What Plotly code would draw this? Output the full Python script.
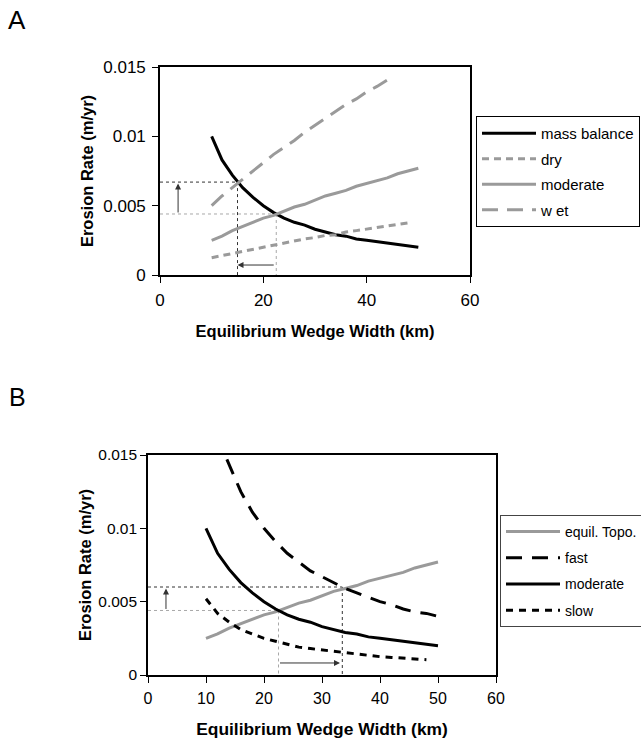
import plotly.graph_objects as go

# ---------------- data ----------------
x_full = [10, 12, 14, 16, 18, 20, 22, 24, 26, 28, 30, 32, 34, 36, 38, 40, 42, 44, 46, 48, 50]

# Panel A
mass_balance = [0.0100, 0.0083, 0.0072, 0.0063, 0.0056, 0.0050, 0.0045, 0.0041, 0.0038, 0.0036,
                0.0033, 0.0031, 0.0029, 0.0028, 0.0026, 0.0025, 0.0024, 0.0023, 0.0022, 0.0021, 0.0020]
moderate_a = [0.0025, 0.0028, 0.0032, 0.0035, 0.0038, 0.0041, 0.0043, 0.0046, 0.0049, 0.0051,
              0.0054, 0.0057, 0.0059, 0.0061, 0.0064, 0.0066, 0.0068, 0.0070, 0.0073, 0.0075, 0.0077]
dry_x = [10, 12, 14, 16, 18, 20, 22, 24, 26, 28, 30, 32, 34, 36, 38, 40, 42, 44, 46, 48]
dry = [0.00125, 0.0014, 0.0016, 0.00175, 0.0019, 0.00205, 0.0022, 0.0023, 0.00245, 0.0026,
       0.0027, 0.00285, 0.0029, 0.0031, 0.0032, 0.0033, 0.0034, 0.0035, 0.0036, 0.00375]
wet_x = [10, 12, 14, 16, 18, 20, 22, 24, 26, 28, 30, 32, 34, 36, 38, 40, 42, 44, 45]
wet = [0.0050, 0.0057, 0.0063, 0.0069, 0.0075, 0.0081, 0.0087, 0.0092, 0.0097, 0.0103,
       0.0108, 0.0113, 0.0118, 0.0123, 0.0127, 0.0132, 0.0136, 0.0141, 0.0143]

# Panel B
equil_topo = moderate_a
moderate_b = mass_balance
fast_x = [13.6, 16, 18, 20, 22, 24, 26, 28, 30, 32, 34, 36, 38, 40, 42, 44, 46, 48, 50]
fast = [0.0147, 0.0125, 0.0111, 0.0100, 0.0091, 0.0083, 0.0077, 0.0071, 0.0067, 0.0063,
        0.0059, 0.0056, 0.0053, 0.0050, 0.0048, 0.0045, 0.0043, 0.0042, 0.0040]
slow_x = [10, 12, 14, 16, 18, 20, 22, 24, 26, 28, 30, 32, 34, 36, 38, 40, 42, 44, 46, 48]
slow = [0.0052, 0.0042, 0.0036, 0.0031, 0.0028, 0.0025, 0.0023, 0.0021, 0.0019, 0.0018,
        0.0017, 0.0016, 0.0015, 0.0014, 0.0013, 0.00125, 0.0012, 0.00114, 0.00109, 0.00104]

# guide values (intersections) and arrows
a_base = (22.5, 0.0044)
a_new = (15.0, 0.0067)
a_up_arrow_x = 3.5
a_side_arrow_y = 0.00072
b_base = (22.5, 0.0044)
b_new = (33.5, 0.0060)
b_up_arrow_x = 3.1
b_side_arrow_y = 0.00082

x_ticks_a = [0, 20, 40, 60]
x_ticks_b = [0, 10, 20, 30, 40, 50, 60]
y_ticks = [0, 0.005, 0.01, 0.015]
y_tick_text = ["0", "0.005", "0.01", "0.015"]

GREY = "#9a9a9a"
BLACK = "#000000"
FONT = "Liberation Sans, Arial, sans-serif"

fig = go.Figure()

def add(x, y, name, color, dash, xa, ya, leg):
    fig.add_trace(go.Scatter(x=x, y=y, name=name, mode="lines",
                             line=dict(color=color, width=3, dash=dash),
                             xaxis=xa, yaxis=ya, legend=leg, legendgroup=leg + name,
                             hoverinfo="skip"))

add(x_full, mass_balance, "mass balance", BLACK, "solid", "x", "y", "legend")
add(dry_x, dry, "dry", GREY, "7px,5px", "x", "y", "legend")
add(x_full, moderate_a, "moderate", GREY, "solid", "x", "y", "legend")
add(wet_x, wet, "w et", GREY, "16px,9px", "x", "y", "legend")

add(x_full, equil_topo, "equil. Topo.", GREY, "solid", "x2", "y2", "legend2")
add(fast_x, fast, "fast", BLACK, "16px,10px", "x2", "y2", "legend2")
add(x_full, moderate_b, "moderate", BLACK, "solid", "x2", "y2", "legend2")
add(slow_x, slow, "slow", BLACK, "7px,6px", "x2", "y2", "legend2")

shapes = []
def guide(xr, yr, x0, y0, x1, y1, color):
    shapes.append(dict(type="line", xref=xr, yref=yr, x0=x0, y0=y0, x1=x1, y1=y1,
                       line=dict(color=color, width=1, dash="3px,3px"), layer="below"))

DARKG = "#333333"
LIGHTG = "#a8a8a8"
guide("x", "y", 0, a_base[1], a_base[0], a_base[1], LIGHTG)
guide("x", "y", a_base[0], a_base[1], a_base[0], 0, LIGHTG)
guide("x", "y", 0, a_new[1], a_new[0], a_new[1], DARKG)
guide("x", "y", a_new[0], a_new[1], a_new[0], 0, DARKG)
guide("x2", "y2", 0, b_base[1], b_base[0], b_base[1], LIGHTG)
guide("x2", "y2", b_base[0], b_base[1], b_base[0], 0, LIGHTG)
guide("x2", "y2", 0, b_new[1], b_new[0], b_new[1], DARKG)
guide("x2", "y2", b_new[0], b_new[1], b_new[0], 0, DARKG)

annotations = []
def arrow(xr, yr, x0, y0, x1, y1):
    annotations.append(dict(xref=xr, yref=yr, axref=xr, ayref=yr, x=x1, y=y1, ax=x0, ay=y0,
                            text="", showarrow=True, arrowhead=2, arrowsize=1.2,
                            arrowwidth=1, arrowcolor="#333333", standoff=0, startstandoff=0))

arrow("x", "y", a_up_arrow_x, a_base[1], a_up_arrow_x, a_new[1] - 0.0001)
arrow("x", "y", a_base[0] - 0.2, a_side_arrow_y, a_new[0], a_side_arrow_y)
arrow("x2", "y2", b_up_arrow_x, b_base[1], b_up_arrow_x, b_new[1] - 0.0001)
arrow("x2", "y2", b_base[0], b_side_arrow_y, b_new[0] - 0.4, b_side_arrow_y)

annotations.append(dict(xref="paper", yref="paper", x=6 / 641, y=1 - 3 / 739, xanchor="left",
                        yanchor="top", text="A", showarrow=False,
                        font=dict(family=FONT, size=26, color="black")))
annotations.append(dict(xref="paper", yref="paper", x=7 / 641, y=1 - 381 / 739, xanchor="left",
                        yanchor="top", text="B", showarrow=False,
                        font=dict(family=FONT, size=25, color="black")))

axis_common = dict(showline=True, linecolor="black", linewidth=1.6, mirror=True,
                   ticks="outside", ticklen=6, tickwidth=1.3, tickcolor="black",
                   showgrid=False, zeroline=False)

fig.update_layout(
    width=641, height=739,
    margin=dict(l=0, r=0, t=0, b=0, autoexpand=False),
    paper_bgcolor="white", plot_bgcolor="white",
    font=dict(family=FONT, color="black"),
    showlegend=True,
    xaxis=dict(domain=[160 / 641, 470 / 641], range=[0, 60], tickvals=x_ticks_a,
               tickfont=dict(size=17), ticklabelstandoff=3,
               title=dict(text="<b>Equilibrium Wedge Width (km)</b>", font=dict(size=16.5), standoff=16),
               anchor="y", **axis_common),
    yaxis=dict(domain=[1 - 275 / 739, 1 - 67 / 739], range=[0, 0.015], tickvals=y_ticks,
               ticktext=y_tick_text, tickfont=dict(size=17), ticklabelstandoff=3,
               title=dict(text="<b>Erosion Rate (m/yr)</b>", font=dict(size=16.5), standoff=5),
               anchor="x", **axis_common),
    xaxis2=dict(domain=[148 / 641, 496 / 641], range=[0, 60], tickvals=x_ticks_b,
                tickfont=dict(size=16), ticklabelstandoff=2,
                title=dict(text="<b>Equilibrium Wedge Width (km)</b>", font=dict(size=17.4), standoff=18),
                anchor="y2", **axis_common),
    yaxis2=dict(domain=[1 - 675 / 739, 1 - 455 / 739], range=[0, 0.015], tickvals=y_ticks,
                ticktext=y_tick_text, tickfont=dict(size=15.5), ticklabelstandoff=0,
                title=dict(text="<b>Erosion Rate (m/yr)</b>", font=dict(size=16.5), standoff=3),
                anchor="x2", **axis_common),
    legend=dict(x=476 / 641, y=1 - 116 / 739, xanchor="left", yanchor="top",
                bordercolor="black", borderwidth=1, bgcolor="white",
                font=dict(size=15), itemwidth=54, tracegroupgap=3, traceorder="grouped"),
    legend2=dict(x=500 / 641, y=1 - 515 / 739, xanchor="left", yanchor="top",
                 bordercolor="#444", borderwidth=1, bgcolor="white",
                 font=dict(size=14), itemwidth=54, tracegroupgap=5, traceorder="grouped"),
    shapes=shapes,
    annotations=annotations,
)

fig.write_html("out.html", config={"displayModeBar": False},
               post_script="document.body.style.margin='0';")
